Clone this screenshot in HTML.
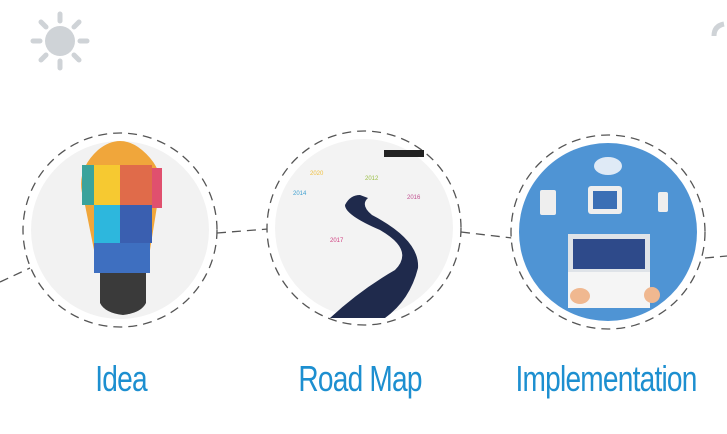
<!DOCTYPE html>
<html><head><style>
body{margin:0;width:727px;height:434px;background:#fff;overflow:hidden;position:relative;font-family:"Liberation Sans",sans-serif}
.lbl{position:absolute;color:#1d8fd0;font-size:36px;top:358px;transform:scaleX(0.78);transform-origin:center;white-space:nowrap;letter-spacing:-1px}
</style></head><body>
<svg width="727" height="434" style="position:absolute;left:0;top:0">
<!-- sun -->
<g fill="#cfd3d7" transform="translate(60,41)">
<circle r="15"/>
<g stroke="#cfd3d7" stroke-width="5" stroke-linecap="round">
<line x1="0" y1="-20" x2="0" y2="-27"/><line x1="0" y1="20" x2="0" y2="27"/>
<line x1="-20" y1="0" x2="-27" y2="0"/><line x1="20" y1="0" x2="27" y2="0"/>
<line x1="14" y1="14" x2="19" y2="19"/><line x1="-14" y1="14" x2="-19" y2="19"/>
<line x1="14" y1="-14" x2="19" y2="-19"/><line x1="-14" y1="-14" x2="-19" y2="-19"/>
</g></g>
<path d="M714 36 q0 -10 10 -12" stroke="#cfd3d7" stroke-width="5" fill="none"/>
<!-- connectors -->
<g stroke="#555" stroke-width="1.3" stroke-dasharray="9,6" fill="none">
<line x1="0" y1="282" x2="30" y2="268"/>
<line x1="217" y1="233" x2="268" y2="229"/>
<line x1="461" y1="232" x2="512" y2="238"/>
<line x1="705" y1="258" x2="727" y2="256"/>
</g>
<!-- circles -->
<g stroke="#555" stroke-width="1.3" stroke-dasharray="9,6">
<circle cx="120" cy="230" r="97" fill="#fff"/>
<circle cx="364" cy="228" r="97" fill="#fff"/>
<circle cx="608" cy="232" r="97" fill="#fff"/>
</g>
<circle cx="120" cy="230" r="89" fill="#f2f2f2"/>
<circle cx="364" cy="228" r="89" fill="#f3f3f3"/>
<circle cx="608" cy="232" r="89" fill="#4f94d4"/>
<!-- bulb -->
<path d="M98 150 Q120 132 142 150 Q168 172 158 200 L150 250 L94 250 L84 200 Q74 172 98 150Z" fill="#f0a63b"/>
<rect x="94" y="165" width="26" height="40" fill="#f6c931"/>
<rect x="120" y="165" width="32" height="40" fill="#e06b4a"/>
<rect x="82" y="165" width="12" height="40" fill="#3aa39c"/>
<rect x="152" y="168" width="10" height="40" fill="#e0506e"/>
<rect x="94" y="205" width="26" height="38" fill="#2db7dd"/>
<rect x="120" y="205" width="32" height="38" fill="#3a5fb0"/>
<rect x="94" y="243" width="56" height="30" fill="#3e6fc0"/>
<path d="M100 273 h46 v30 q-5 10 -23 12 q-18 -2 -23 -12z" fill="#3a3a3a"/>
<!-- road -->
<path d="M330 318 Q360 290 395 270 Q415 250 380 230 Q345 215 345 205 Q350 195 360 195 L368 198 Q360 205 372 215 Q420 240 418 268 Q410 300 385 318Z" fill="#1f2a4c"/>
<g font-size="6" fill="#888"><text x="310" y="175" fill="#f0c040">2020</text><text x="365" y="180" fill="#9cc048">2012</text><text x="293" y="195" fill="#3fa0d0">2014</text><text x="407" y="199" fill="#c05090">2016</text><text x="330" y="242" fill="#d04080">2017</text></g>
<rect x="384" y="150" width="40" height="7" fill="#222"/>
<!-- implementation -->
<ellipse cx="608" cy="166" rx="14" ry="9" fill="#dfeaf6"/>
<rect x="540" y="190" width="16" height="25" rx="2" fill="#eee"/>
<rect x="588" y="186" width="34" height="28" rx="3" fill="#eee"/>
<rect x="593" y="191" width="24" height="18" fill="#3b6fb5"/>
<rect x="658" y="192" width="10" height="20" rx="2" fill="#eee"/>
<rect x="568" y="234" width="82" height="50" fill="#dfe3e8"/>
<rect x="573" y="239" width="72" height="30" fill="#2e4a8a"/>
<rect x="568" y="272" width="82" height="36" fill="#f5f5f5"/>
<ellipse cx="580" cy="296" rx="10" ry="8" fill="#f0b890"/>
<ellipse cx="652" cy="295" rx="8" ry="8" fill="#f0b890"/>
</svg>
<div class="lbl" style="left:88px">Idea</div>
<div class="lbl" style="left:281px">Road Map</div>
<div class="lbl" style="left:490px">Implementation</div>
</body></html>
